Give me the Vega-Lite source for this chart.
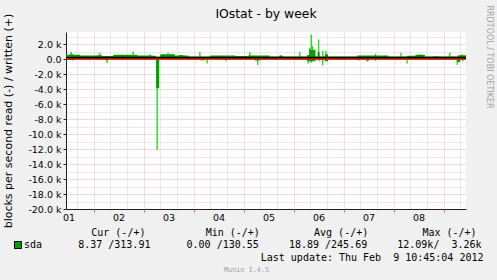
{
  "$schema": "https://vega.github.io/schema/vega-lite/v6.json",
  "width": 400,
  "height": 177,
  "autosize": {"type": "none"},
  "padding": {"left": 66, "top": 32, "right": 31, "bottom": 71},
  "background": "#F0F0F0",
  "title": {"text": "IOstat - by week", "font": "DejaVu Sans", "fontSize": 12.4, "fontWeight": "normal", "color": "#000000", "anchor": "middle", "frame": "group", "baseline": "alphabetic", "offset": -12, "dy": 13.5},
  "config": {
    "view": {"fill": "#FFFFFF", "stroke": null},
    "axis": {"labelFont": "DejaVu Sans", "titleFont": "DejaVu Sans", "labelColor": "#000000", "titleColor": "#000000", "titleFontWeight": "normal"}
  },
  "resolve": {"axis": {"x": "independent", "y": "independent"}},
  "layer": [
    {
      "data": {"values": [
        {"time": "2012-02-01T13:15:00", "value": 930},
        {"time": "2012-02-01T14:00:00", "value": -200},
        {"time": "2012-02-02T03:00:00", "value": 850},
        {"time": "2012-02-02T06:30:00", "value": -530},
        {"time": "2012-02-02T19:00:00", "value": 1000},
        {"time": "2012-02-03T03:00:00", "value": 650},
        {"time": "2012-02-03T06:30:00", "value": -12090},
        {"time": "2012-02-03T11:45:00", "value": 850},
        {"time": "2012-02-03T12:45:00", "value": 700},
        {"time": "2012-02-04T03:00:00", "value": 930},
        {"time": "2012-02-04T06:30:00", "value": -600},
        {"time": "2012-02-04T15:30:00", "value": -300},
        {"time": "2012-02-05T03:00:00", "value": 900},
        {"time": "2012-02-05T06:45:00", "value": -800},
        {"time": "2012-02-05T17:45:00", "value": 550},
        {"time": "2012-02-06T03:00:00", "value": 930},
        {"time": "2012-02-06T07:00:00", "value": -600},
        {"time": "2012-02-06T07:45:00", "value": 1500},
        {"time": "2012-02-06T08:30:00", "value": 3260},
        {"time": "2012-02-06T08:30:00", "value": -500},
        {"time": "2012-02-06T09:00:00", "value": 1800},
        {"time": "2012-02-06T12:00:00", "value": 2600},
        {"time": "2012-02-06T12:30:00", "value": -300},
        {"time": "2012-02-06T14:00:00", "value": 1100},
        {"time": "2012-02-06T14:00:00", "value": -850},
        {"time": "2012-02-06T15:30:00", "value": 1100},
        {"time": "2012-02-07T15:15:00", "value": 700},
        {"time": "2012-02-07T15:15:00", "value": -250},
        {"time": "2012-02-08T03:30:00", "value": 840},
        {"time": "2012-02-08T06:30:00", "value": -600},
        {"time": "2012-02-08T12:45:00", "value": 650},
        {"time": "2012-02-09T03:00:00", "value": 840},
        {"time": "2012-02-09T06:30:00", "value": -800},
        {"time": "2012-02-09T08:45:00", "value": 650}
      ]},
      "mark": {"type": "rule", "color": "#22DD22", "strokeWidth": 1.4},
      "encoding": {
        "x": {"field": "time", "type": "temporal",
          "scale": {"domain": [{"year": 2012, "month": 2, "date": 1, "hours": 10, "minutes": 45}, {"year": 2012, "month": 2, "date": 9, "hours": 10, "minutes": 45}]},
          "axis": {
            "values": [
              {"year": 2012, "month": 2, "date": 1, "hours": 12},
              {"year": 2012, "month": 2, "date": 2, "hours": 12},
              {"year": 2012, "month": 2, "date": 3, "hours": 12},
              {"year": 2012, "month": 2, "date": 4, "hours": 12},
              {"year": 2012, "month": 2, "date": 5, "hours": 12},
              {"year": 2012, "month": 2, "date": 6, "hours": 12},
              {"year": 2012, "month": 2, "date": 7, "hours": 12},
              {"year": 2012, "month": 2, "date": 8, "hours": 12}
            ],
            "format": "%d", "formatType": "time",
            "orient": "bottom", "grid": false, "ticks": false, "labelFlush": false, "labelOverlap": false,
            "labelFontSize": 9.5, "labelPadding": 3, "labelAngle": 0,
            "domain": true, "domainColor": "#202020", "domainWidth": 1,
            "title": "Last update: Thu Feb\u00a0\u00a09 10:45:04 2012",
            "titleFont": "DejaVu Sans Mono", "titleFontSize": 10,
            "titleX": 417, "titleY": 48, "titleAlign": "right", "titleBaseline": "middle", "titleAngle": 0
          }
        },
        "y": {"field": "value", "type": "quantitative",
          "scale": {"domain": [-20000, 3600], "nice": false, "zero": false},
          "axis": {
            "orient": "left",
            "values": [-20000, -18000, -16000, -14000, -12000, -10000, -8000, -6000, -4000, -2000, 0, 2000],
            "labelExpr": "datum.value == 0 ? '0.0' : (datum.value < 0 ? '-' : '') + format(abs(datum.value) / 1000, '.1f') + ' k'",
            "labelFontSize": 9.5, "labelPadding": 2,
            "ticks": true, "tickSize": 3, "tickColor": "#202020",
            "domain": true, "domainColor": "#202020",
            "grid": true, "gridColor": "#F0B4B4", "gridDash": [1, 1], "gridWidth": 1,
            "title": "blocks per second read (-) / written (+)",
            "titleFontSize": 11, "titleAngle": 270, "titleX": -58, "titleY": 88.5,
            "titleAlign": "center", "titleBaseline": "middle"
          }
        },
        "y2": {"datum": 0}
      }
    },
    {
      "data": {"values": [
        {"time": "2012-02-01T10:45:00", "written": 580},
        {"time": "2012-02-01T12:30:00", "written": 620},
        {"time": "2012-02-01T14:30:00", "written": 560},
        {"time": "2012-02-01T17:30:00", "written": 480},
        {"time": "2012-02-01T21:00:00", "written": 470},
        {"time": "2012-02-02T01:30:00", "written": 500},
        {"time": "2012-02-02T04:00:00", "written": 400},
        {"time": "2012-02-02T09:30:00", "written": 560},
        {"time": "2012-02-02T14:00:00", "written": 580},
        {"time": "2012-02-02T21:00:00", "written": 480},
        {"time": "2012-02-03T04:00:00", "written": 450},
        {"time": "2012-02-03T06:00:00", "written": 300},
        {"time": "2012-02-03T08:00:00", "written": 620},
        {"time": "2012-02-03T15:00:00", "written": 480},
        {"time": "2012-02-03T17:00:00", "written": 520},
        {"time": "2012-02-03T19:00:00", "written": 480},
        {"time": "2012-02-03T21:30:00", "written": 350},
        {"time": "2012-02-04T08:00:00", "written": 480},
        {"time": "2012-02-04T20:00:00", "written": 400},
        {"time": "2012-02-05T02:00:00", "written": 480},
        {"time": "2012-02-05T12:30:00", "written": 350},
        {"time": "2012-02-05T17:00:00", "written": 420},
        {"time": "2012-02-05T19:00:00", "written": 350},
        {"time": "2012-02-06T06:30:00", "written": 550},
        {"time": "2012-02-06T07:30:00", "written": 1250},
        {"time": "2012-02-06T10:30:00", "written": 350},
        {"time": "2012-02-06T11:30:00", "written": 900},
        {"time": "2012-02-06T12:30:00", "written": 350},
        {"time": "2012-02-06T15:00:00", "written": 650},
        {"time": "2012-02-06T16:30:00", "written": 350},
        {"time": "2012-02-07T06:30:00", "written": 480},
        {"time": "2012-02-07T21:30:00", "written": 350},
        {"time": "2012-02-08T06:30:00", "written": 420},
        {"time": "2012-02-08T10:30:00", "written": 560},
        {"time": "2012-02-08T15:00:00", "written": 350},
        {"time": "2012-02-08T19:00:00", "written": 380},
        {"time": "2012-02-08T22:00:00", "written": 350},
        {"time": "2012-02-09T07:00:00", "written": 500},
        {"time": "2012-02-09T10:45:00", "written": 500}
      ]},
      "mark": {"type": "area", "interpolate": "step-after", "opacity": 1},
      "encoding": {
        "x": {"field": "time", "type": "temporal",
          "scale": {"domain": [{"year": 2012, "month": 2, "date": 1, "hours": 10, "minutes": 45}, {"year": 2012, "month": 2, "date": 9, "hours": 10, "minutes": 45}]},
          "axis": {
            "orient": "bottom",
            "values": [
              {"year": 2012, "month": 2, "date": 1, "hours": 16},
              {"year": 2012, "month": 2, "date": 2, "hours": 8},
              {"year": 2012, "month": 2, "date": 2, "hours": 16},
              {"year": 2012, "month": 2, "date": 3, "hours": 8},
              {"year": 2012, "month": 2, "date": 3, "hours": 16},
              {"year": 2012, "month": 2, "date": 4, "hours": 8},
              {"year": 2012, "month": 2, "date": 4, "hours": 16},
              {"year": 2012, "month": 2, "date": 5, "hours": 8},
              {"year": 2012, "month": 2, "date": 5, "hours": 16},
              {"year": 2012, "month": 2, "date": 6, "hours": 8},
              {"year": 2012, "month": 2, "date": 6, "hours": 16},
              {"year": 2012, "month": 2, "date": 7, "hours": 8},
              {"year": 2012, "month": 2, "date": 7, "hours": 16},
              {"year": 2012, "month": 2, "date": 8, "hours": 8},
              {"year": 2012, "month": 2, "date": 8, "hours": 16},
              {"year": 2012, "month": 2, "date": 9, "hours": 8}
            ],
            "labels": false, "ticks": false, "domain": false, "title": null,
            "grid": true, "gridColor": "#D6D6D6", "gridDash": [1, 1], "gridWidth": 1
          }
        },
        "y": {"field": "written", "type": "quantitative",
          "scale": {"domain": [-20000, 3600], "nice": false, "zero": false},
          "axis": {
            "orient": "left",
            "values": [-19000, -17000, -15000, -13000, -11000, -9000, -7000, -5000, -3000, -1000, 1000, 3000],
            "labels": false, "ticks": false, "domain": false, "title": null,
            "grid": true, "gridColor": "#D6D6D6", "gridDash": [1, 1], "gridWidth": 1
          }
        },
        "y2": {"datum": 0},
        "color": {"datum": "sda", "scale": {"range": ["#00A000"]},
          "legend": {
            "orient": "none", "legendX": -53, "legendY": 196, "direction": "vertical", "padding": 0,
            "title": "\u200b\u00a0\u00a0\u00a0\u00a0\u00a0\u00a0\u00a0\u00a0\u00a0\u00a0\u00a0\u00a0\u00a0Cur (-/+)\u00a0\u00a0\u00a0\u00a0\u00a0\u00a0\u00a0\u00a0\u00a0\u00a0Min (-/+)\u00a0\u00a0\u00a0\u00a0\u00a0\u00a0\u00a0\u00a0\u00a0Avg (-/+)\u00a0\u00a0\u00a0\u00a0\u00a0\u00a0\u00a0\u00a0\u00a0Max (-/+)",
            "labelExpr": "'sda\u00a0\u00a0\u00a0\u00a0\u00a0\u00a08.37\u00a0/313.91\u00a0\u00a0\u00a0\u00a0\u00a0\u00a00.00\u00a0/130.55\u00a0\u00a0\u00a0\u00a0\u00a018.89\u00a0/245.69\u00a0\u00a0\u00a0\u00a0\u00a012.09k/\u00a0\u00a03.26k'",
            "symbolType": "square", "symbolSize": 49, "symbolStrokeColor": "#000000", "symbolStrokeWidth": 1, "symbolOpacity": 1, "symbolFillColor": "#00A000",
            "labelFont": "DejaVu Sans Mono", "labelFontSize": 10, "labelColor": "#000000", "labelLimit": 800, "labelOffset": 1,
            "titleFont": "DejaVu Sans Mono", "titleFontSize": 10, "titleFontWeight": "normal", "titleColor": "#000000", "titleLimit": 800, "titlePadding": 2, "titleAnchor": "start"
          }
        }
      }
    },
    {
      "data": {"values": [
        {"time": "2012-02-01T10:45:00", "read": -60},
        {"time": "2012-02-01T11:30:00", "read": -120},
        {"time": "2012-02-01T15:00:00", "read": -60},
        {"time": "2012-02-02T05:30:00", "read": -150},
        {"time": "2012-02-02T07:00:00", "read": -50},
        {"time": "2012-02-03T06:00:00", "read": -3900},
        {"time": "2012-02-03T07:30:00", "read": -60},
        {"time": "2012-02-04T03:00:00", "read": -150},
        {"time": "2012-02-04T05:30:00", "read": -50},
        {"time": "2012-02-05T05:30:00", "read": -200},
        {"time": "2012-02-05T08:00:00", "read": -50},
        {"time": "2012-02-06T06:30:00", "read": -300},
        {"time": "2012-02-06T10:30:00", "read": -50},
        {"time": "2012-02-06T15:00:00", "read": -300},
        {"time": "2012-02-06T16:30:00", "read": -50},
        {"time": "2012-02-07T06:30:00", "read": -150},
        {"time": "2012-02-07T08:00:00", "read": -50},
        {"time": "2012-02-07T11:00:00", "read": -300},
        {"time": "2012-02-07T12:00:00", "read": -50},
        {"time": "2012-02-09T06:30:00", "read": -400},
        {"time": "2012-02-09T08:00:00", "read": -50},
        {"time": "2012-02-09T09:00:00", "read": -300},
        {"time": "2012-02-09T09:30:00", "read": -50},
        {"time": "2012-02-09T10:45:00", "read": -50}
      ]},
      "mark": {"type": "area", "interpolate": "step-after", "color": "#00A000", "opacity": 1},
      "encoding": {
        "x": {"field": "time", "type": "temporal",
          "scale": {"domain": [{"year": 2012, "month": 2, "date": 1, "hours": 10, "minutes": 45}, {"year": 2012, "month": 2, "date": 9, "hours": 10, "minutes": 45}]},
          "axis": {
            "orient": "bottom",
            "values": [
              {"year": 2012, "month": 2, "date": 2},
              {"year": 2012, "month": 2, "date": 3},
              {"year": 2012, "month": 2, "date": 4},
              {"year": 2012, "month": 2, "date": 5},
              {"year": 2012, "month": 2, "date": 6},
              {"year": 2012, "month": 2, "date": 7},
              {"year": 2012, "month": 2, "date": 8},
              {"year": 2012, "month": 2, "date": 9}
            ],
            "labels": false, "domain": false,
            "ticks": true, "tickSize": 3, "tickColor": "#E06060",
            "grid": true, "gridColor": "#F0B4B4", "gridDash": [1, 1], "gridWidth": 1,
            "title": "Munin 1.4.5", "titleFont": "DejaVu Sans Mono", "titleFontSize": 6.8, "titleColor": "#A0A0A0",
            "titleX": 180, "titleY": 60, "titleAlign": "center", "titleBaseline": "middle", "titleAngle": 0
          }
        },
        "y": {"field": "read", "type": "quantitative",
          "scale": {"domain": [-20000, 3600], "nice": false, "zero": false},
          "axis": {
            "orient": "right", "labels": false, "ticks": false, "domain": false, "grid": false,
            "title": "RRDTOOL / TOBI OETIKER", "titleFontSize": 8, "titleColor": "#A0A0A0",
            "titleAngle": 90, "titleX": 22.5, "titleY": 24.5, "titleAlign": "center", "titleBaseline": "middle"
          }
        },
        "y2": {"datum": 0}
      }
    },
    {
      "data": {"values": [{"level": 0}]},
      "mark": {"type": "rule", "color": "#FF0000", "strokeWidth": 1.5},
      "encoding": {
        "y": {"field": "level", "type": "quantitative", "scale": {"domain": [-20000, 3600], "nice": false, "zero": false}, "axis": null}
      }
    },
    {
      "data": {"values": [{"level": 0}]},
      "mark": {"type": "rule", "color": "#000000", "strokeWidth": 1.5, "yOffset": -1.5},
      "encoding": {
        "y": {"field": "level", "type": "quantitative", "scale": {"domain": [-20000, 3600], "nice": false, "zero": false}, "axis": null}
      }
    }
  ]
}
